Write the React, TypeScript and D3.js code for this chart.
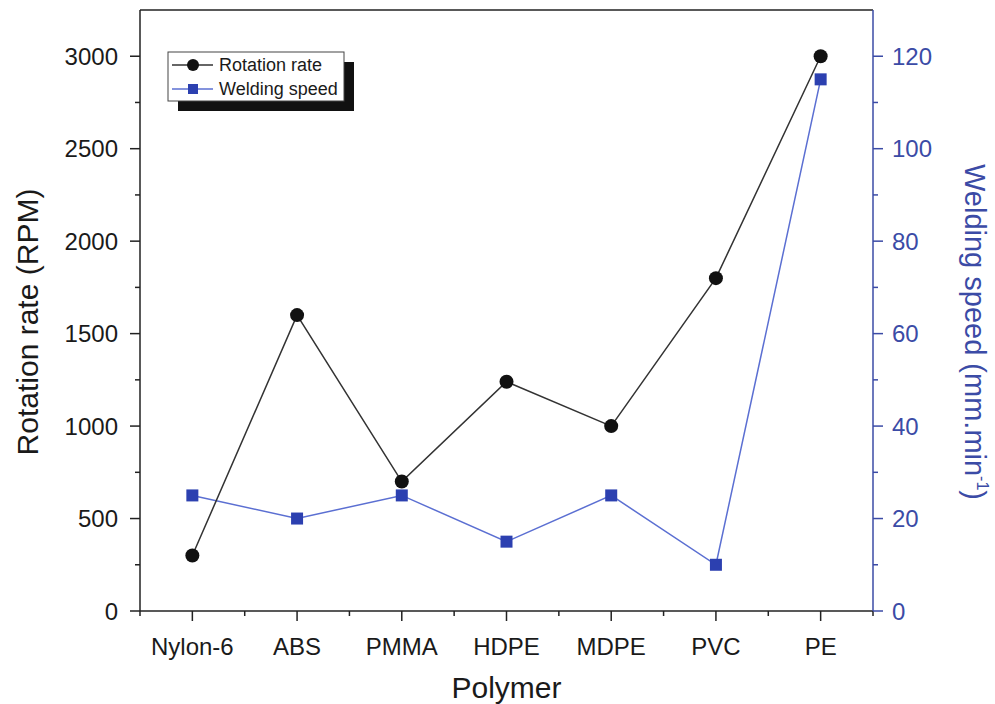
import React, { useRef, useEffect } from 'react';
import * as d3 from 'd3';

const polymers = ['Nylon-6', 'ABS', 'PMMA', 'HDPE', 'MDPE', 'PVC', 'PE'];
const rotationRate = [300, 1600, 700, 1240, 1000, 1800, 3000];
const weldingSpeed = [25, 20, 25, 15, 25, 10, 115];
const leftTicks = [0, 500, 1000, 1500, 2000, 2500, 3000];
const rightTicks = [0, 20, 40, 60, 80, 100, 120];

const W = 995;
const H = 704;
const FONT = '"Liberation Sans", Arial, Helvetica, sans-serif';
const BLUE_AXIS = '#3b4ba6';
const BLUE_LINE = '#5b6fd2';
const BLUE_MARK = '#2c40b0';
const TEXT = '#1a1a1a';

const App = () => {
  const ref = useRef<SVGSVGElement>(null);

  useEffect(() => {
    const svg = d3.select(ref.current);
    svg.selectAll('*').remove();
    const left = 140, right = 873, top = 10, bottom = 611;

    const x = d3.scaleLinear().domain([0.5, polymers.length + 0.5]).range([left, right]);
    const yL = d3.scaleLinear().domain([0, 3250]).range([bottom, top]);
    const yR = d3.scaleLinear().domain([0, 130]).range([bottom, top]);

    // frame top line
    svg.append('line')
      .attr('x1', left).attr('x2', right).attr('y1', top).attr('y2', top)
      .attr('stroke', '#222').attr('stroke-width', 1.5);

    // bottom axis
    const bx = svg.append('g').attr('font-family', FONT);
    bx.append('line').attr('x1', left).attr('x2', right).attr('y1', bottom).attr('y2', bottom)
      .attr('stroke', '#222').attr('stroke-width', 1.5);
    const minorX = d3.range(0.5, polymers.length + 1, 1);
    bx.selectAll('line.minor').data(minorX).join('line').attr('class', 'minor')
      .attr('x1', d => x(d)).attr('x2', d => x(d)).attr('y1', bottom).attr('y2', bottom + 5)
      .attr('stroke', '#222').attr('stroke-width', 1.5);
    bx.selectAll('line.major').data(polymers).join('line').attr('class', 'major')
      .attr('x1', (d, i) => x(i + 1)).attr('x2', (d, i) => x(i + 1)).attr('y1', bottom).attr('y2', bottom + 10)
      .attr('stroke', '#222').attr('stroke-width', 1.5);
    bx.selectAll('text').data(polymers).join('text')
      .attr('x', (d, i) => x(i + 1)).attr('y', 655)
      .attr('text-anchor', 'middle').attr('font-size', 24).attr('fill', TEXT)
      .text(d => d);
    bx.append('text').attr('x', (left + right) / 2).attr('y', 698)
      .attr('text-anchor', 'middle').attr('font-size', 30).attr('fill', TEXT).text('Polymer');

    // left axis
    const ly = svg.append('g').attr('font-family', FONT);
    ly.append('line').attr('x1', left).attr('x2', left).attr('y1', top).attr('y2', bottom)
      .attr('stroke', '#222').attr('stroke-width', 1.5);
    const minorL = d3.range(250, 3250, 500);
    ly.selectAll('line.minor').data(minorL).join('line').attr('class', 'minor')
      .attr('x1', left - 5).attr('x2', left).attr('y1', d => yL(d)).attr('y2', d => yL(d))
      .attr('stroke', '#222').attr('stroke-width', 1.5);
    ly.selectAll('line.major').data(leftTicks).join('line').attr('class', 'major')
      .attr('x1', left - 10).attr('x2', left).attr('y1', d => yL(d)).attr('y2', d => yL(d))
      .attr('stroke', '#222').attr('stroke-width', 1.5);
    ly.selectAll('text').data(leftTicks).join('text')
      .attr('x', 118).attr('y', d => yL(d)).attr('dy', '0.36em')
      .attr('text-anchor', 'end').attr('font-size', 24).attr('fill', TEXT)
      .text(d => d);
    ly.append('text').attr('transform', `translate(38,322) rotate(-90)`)
      .attr('text-anchor', 'middle').attr('font-size', 30).attr('fill', TEXT)
      .text('Rotation rate (RPM)');

    // right axis
    const ry = svg.append('g').attr('font-family', FONT);
    ry.append('line').attr('x1', right).attr('x2', right).attr('y1', top).attr('y2', bottom)
      .attr('stroke', BLUE_AXIS).attr('stroke-width', 1.5);
    const minorR = d3.range(10, 130, 20);
    ry.selectAll('line.minor').data(minorR).join('line').attr('class', 'minor')
      .attr('x1', right).attr('x2', right + 5).attr('y1', d => yR(d)).attr('y2', d => yR(d))
      .attr('stroke', BLUE_AXIS).attr('stroke-width', 1.5);
    ry.selectAll('line.major').data(rightTicks).join('line').attr('class', 'major')
      .attr('x1', right).attr('x2', right + 10).attr('y1', d => yR(d)).attr('y2', d => yR(d))
      .attr('stroke', BLUE_AXIS).attr('stroke-width', 1.5);
    ry.selectAll('text').data(rightTicks).join('text')
      .attr('x', 892).attr('y', d => yR(d)).attr('dy', '0.36em')
      .attr('text-anchor', 'start').attr('font-size', 24).attr('fill', BLUE_AXIS)
      .text(d => d);
    const rt = ry.append('text').attr('transform', `translate(965,332) rotate(90)`)
      .attr('text-anchor', 'middle').attr('font-size', 29).attr('fill', BLUE_AXIS);
    rt.append('tspan').text('Welding speed (mm.min');
    rt.append('tspan').attr('font-size', 16).attr('dy', -12).text('-1');
    rt.append('tspan').attr('dy', 12).text(')');

    // series
    const lineL = d3.line<number>().x((d, i) => x(i + 1)).y(d => yL(d));
    const lineR = d3.line<number>().x((d, i) => x(i + 1)).y(d => yR(d));
    svg.append('path').datum(weldingSpeed).attr('d', lineR)
      .attr('fill', 'none').attr('stroke', BLUE_LINE).attr('stroke-width', 1.5);
    svg.append('path').datum(rotationRate).attr('d', lineL)
      .attr('fill', 'none').attr('stroke', '#333').attr('stroke-width', 1.5);
    svg.append('g').selectAll('rect').data(weldingSpeed).join('rect')
      .attr('x', (d, i) => x(i + 1) - 6).attr('y', d => yR(d) - 6)
      .attr('width', 12).attr('height', 12).attr('fill', BLUE_MARK);
    svg.append('g').selectAll('circle').data(rotationRate).join('circle')
      .attr('cx', (d, i) => x(i + 1)).attr('cy', d => yL(d)).attr('r', 7)
      .attr('fill', '#111');

    // legend
    const lg = svg.append('g').attr('font-family', FONT);
    lg.append('rect').attr('x', 178).attr('y', 62).attr('width', 176).attr('height', 49).attr('fill', '#111');
    lg.append('rect').attr('x', 168).attr('y', 52).attr('width', 176).attr('height', 49)
      .attr('fill', '#fff').attr('stroke', '#444').attr('stroke-width', 1);
    const items = [
      { name: 'Rotation rate', color: '#333', y: 65 },
      { name: 'Welding speed', color: BLUE_LINE, y: 89 },
    ];
    items.forEach((it, i) => {
      lg.append('line').attr('x1', 172).attr('x2', 213).attr('y1', it.y).attr('y2', it.y)
        .attr('stroke', it.color).attr('stroke-width', 1.3);
      if (i === 0) {
        lg.append('circle').attr('cx', 193).attr('cy', it.y).attr('r', 6).attr('fill', '#111');
      } else {
        lg.append('rect').attr('x', 188).attr('y', it.y - 5).attr('width', 10).attr('height', 10).attr('fill', BLUE_MARK);
      }
      lg.append('text').attr('x', 219).attr('y', it.y).attr('dy', '0.36em')
        .attr('font-size', 18).attr('fill', TEXT).text(it.name);
    });
  }, []);

  return (
    <svg ref={ref} width={W} height={H}
      style={{ position: 'absolute', left: 0, top: 0, background: '#fff' }} />
  );
};

export default App;
